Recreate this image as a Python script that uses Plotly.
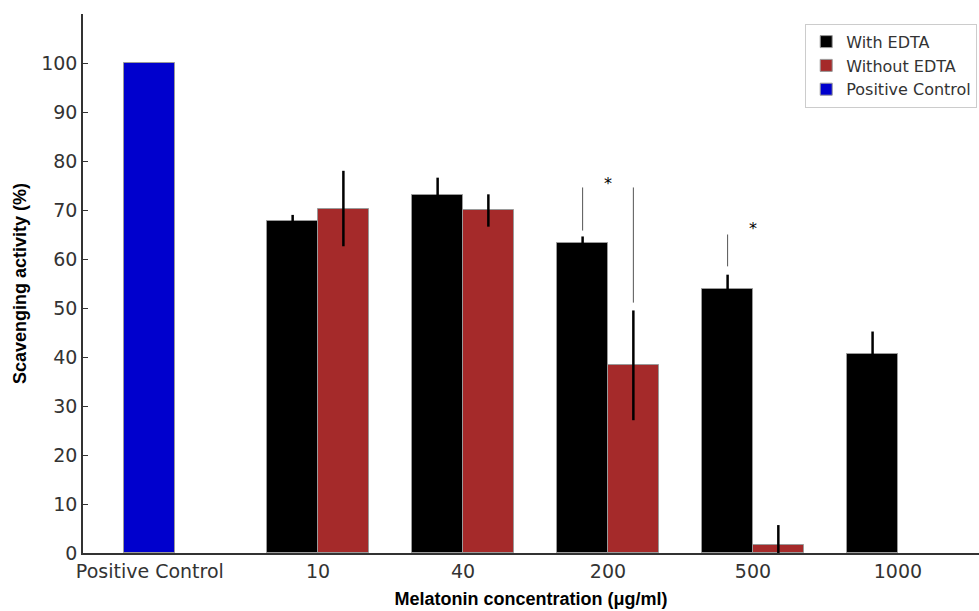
import plotly.graph_objects as go

# ---- data ----
concentrations = ["10", "40", "200", "500", "1000"]
with_edta = [67.7, 73.0, 63.2, 53.8, 40.7]
with_edta_err = [1.3, 3.6, 1.4, 3.0, 4.5]
without_edta = [70.3, 69.9, 38.3, 1.6, None]
without_edta_err = [7.7, 3.3, 11.2, 4.1, None]
positive_label = "Positive Control"
positive_value = [100]

# significance markers (category, bar side, y-start, y-end)
sig_cat = ["200", "200", "500"]
sig_side = ["with", "without", "with"]
sig_y0 = [65.8, 51.1, 58.5]
sig_y1 = [74.6, 74.6, 65.0]
star_cat = ["200", "500"]
star_y = [75.5, 66.3]

# ---- layout config ----
bar_w = 0.35
group_pos = [1, 2, 3, 4, 5]
pc_pos = -0.16
pos_of = dict(zip(concentrations, group_pos))

fig = go.Figure()
fig.add_trace(go.Bar(
    name="With EDTA", x=group_pos, y=with_edta, width=bar_w, offset=-bar_w,
    marker=dict(color="#000000", line=dict(color="#9a9a9a", width=1)),
    error_y=dict(type="data", array=with_edta_err, color="#000000", thickness=2.5, width=0),
))
fig.add_trace(go.Bar(
    name="Without EDTA", x=group_pos, y=without_edta, width=bar_w, offset=0,
    marker=dict(color="#A52A2A", line=dict(color="#9a9a9a", width=1)),
    error_y=dict(type="data", array=without_edta_err, color="#000000", thickness=2.5, width=0),
))
fig.add_trace(go.Bar(
    name="Positive Control", x=[pc_pos], y=positive_value, width=bar_w,
    marker=dict(color="#0000CD", line=dict(color="#9a9a9a", width=1)),
))

for c, side, y0, y1 in zip(sig_cat, sig_side, sig_y0, sig_y1):
    xc = pos_of[c] + (-bar_w / 2 if side == "with" else bar_w / 2)
    fig.add_shape(type="line", xref="x", yref="y", x0=xc, x1=xc, y0=y0, y1=y1,
                  line=dict(color="#555555", width=1))
for c, y in zip(star_cat, star_y):
    fig.add_annotation(x=pos_of[c], y=y, text="*", showarrow=False,
                       font=dict(family="DejaVu Sans", size=16, color="#000000"),
                       xanchor="center", yanchor="middle")

fig.update_layout(
    width=979, height=611,
    margin=dict(l=83, r=0, t=14, b=58),
    paper_bgcolor="white", plot_bgcolor="white",
    barmode="overlay", bargap=0,
    font=dict(family="DejaVu Sans", size=18, color="#333333"),
    legend=dict(x=0.998, xanchor="right", y=0.982, yanchor="top",
                bgcolor="white", bordercolor="#cccccc", borderwidth=1,
                font=dict(family="DejaVu Sans", size=16, color="#333333"),
                traceorder="normal"),
    showlegend=True,
)
fig.update_xaxes(
    range=[-0.621, 5.559], showgrid=False, zeroline=False,
    showline=True, linecolor="#333333", linewidth=1.5,
    tickmode="array", tickvals=[pc_pos] + group_pos,
    ticktext=[positive_label] + concentrations, ticks="",
    tickfont=dict(family="DejaVu Sans", size=19, color="#333333"),
    title=dict(text="<b>Melatonin concentration (μg/ml)</b>",
               font=dict(family="Liberation Sans", size=18, color="#000000"), standoff=12),
)
fig.update_yaxes(
    range=[0, 110], showgrid=False, zeroline=False,
    showline=True, linecolor="#333333", linewidth=1.5,
    tickmode="array", tickvals=list(range(0, 101, 10)),
    ticks="inside", ticklen=5, tickcolor="#333333", tickwidth=1.2,
    tickfont=dict(family="DejaVu Sans", size=19, color="#333333"),
    title=dict(text="<b>Scavenging activity (%)</b>",
               font=dict(family="Liberation Sans", size=18, color="#000000"), standoff=10),
)

fig.write_html("out.html")
